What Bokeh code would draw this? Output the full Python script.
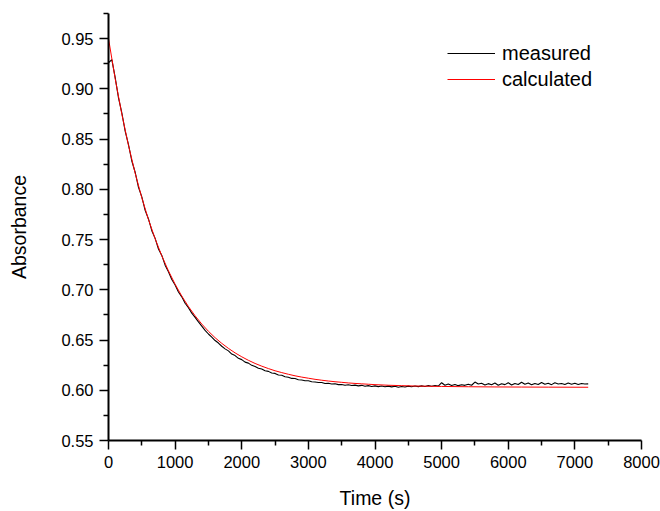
from bokeh.plotting import figure
from bokeh.models import Range1d, FixedTicker, NumeralTickFormatter, Legend, LegendItem
from bokeh.embed import file_html
from bokeh.resources import INLINE

meas_t = list(range(0, 7201, 50))
meas_a = [
    0.9260, 0.9290, 0.9115, 0.8910, 0.8762, 0.8580, 0.8445, 0.8282, 0.8170, 0.8020,
    0.7925, 0.7790, 0.7705, 0.7588, 0.7512, 0.7405, 0.7342, 0.7245, 0.7180, 0.7102,
    0.7048, 0.6978, 0.6930, 0.6866, 0.6822, 0.6768, 0.6725, 0.6680, 0.6638, 0.6596,
    0.6560, 0.6528, 0.6495, 0.6470, 0.6438, 0.6412, 0.6392, 0.6360, 0.6345, 0.6318,
    0.6305, 0.6280, 0.6270, 0.6248, 0.6236, 0.6220, 0.6212, 0.6195, 0.6188, 0.6172,
    0.6168, 0.6152, 0.6149, 0.6135, 0.6130, 0.6118, 0.6117, 0.6105, 0.6102, 0.6094,
    0.6095, 0.6085, 0.6082, 0.6077, 0.6078, 0.6068, 0.6070, 0.6062, 0.6064, 0.6056,
    0.6058, 0.6050, 0.6055, 0.6047, 0.6051, 0.6044, 0.6049, 0.6040, 0.6046, 0.6038,
    0.6044, 0.6036, 0.6042, 0.6035, 0.6041, 0.6034, 0.6040, 0.6030, 0.6038, 0.6033,
    0.6041, 0.6035, 0.6043, 0.6036, 0.6044, 0.6038, 0.6046, 0.6040, 0.6048, 0.6042,
    0.6075, 0.6050, 0.6062, 0.6048, 0.6058, 0.6046, 0.6055, 0.6049, 0.6060, 0.6050,
    0.6082, 0.6062, 0.6070, 0.6052, 0.6066, 0.6055, 0.6072, 0.6050, 0.6065, 0.6056,
    0.6075, 0.6052, 0.6068, 0.6057, 0.6080, 0.6060, 0.6072, 0.6054, 0.6068, 0.6058,
    0.6078, 0.6060, 0.6070, 0.6056, 0.6074, 0.6062, 0.6068, 0.6057, 0.6072, 0.6060,
    0.6070, 0.6058, 0.6068, 0.6062, 0.6064,
]

# calculated curve
calc_t = [0, 100, 200, 300, 400, 500, 600, 700, 800, 900,
          1000, 1100, 1200, 1300, 1400, 1500, 1600, 1700, 1800, 1900,
          2000, 2100, 2200, 2300, 2400, 2500, 2600, 2700, 2800, 2900,
          3000, 3100, 3200, 3300, 3400, 3500, 3600, 3700, 3800, 3900,
          4000, 4200, 4400, 4600, 4800, 5000, 5400, 5800, 6200, 6600, 7200]
calc_a = [0.9500, 0.9102, 0.8749, 0.8437, 0.8161, 0.7916, 0.7699, 0.7508, 0.7338, 0.7188,
          0.7055, 0.6937, 0.6833, 0.6741, 0.6659, 0.6587, 0.6523, 0.6467, 0.6417, 0.6372,
          0.6333, 0.6298, 0.6267, 0.6240, 0.6216, 0.6194, 0.6176, 0.6159, 0.6144, 0.6131,
          0.6120, 0.6109, 0.6100, 0.6092, 0.6085, 0.6079, 0.6073, 0.6068, 0.6064, 0.6060,
          0.6056, 0.6050, 0.6046, 0.6042, 0.6040, 0.6038, 0.6035, 0.6033, 0.6032, 0.6031, 0.6030]

x_ticks = [0, 1000, 2000, 3000, 4000, 5000, 6000, 7000, 8000]
x_minor = [500, 1500, 2500, 3500, 4500, 5500, 6500, 7500]
y_ticks = [0.55, 0.60, 0.65, 0.70, 0.75, 0.80, 0.85, 0.90, 0.95]
y_minor = [0.575, 0.625, 0.675, 0.725, 0.775, 0.825, 0.875, 0.925, 0.975]

FONT = "Liberation Sans"

p = figure(width=660, height=511, output_backend="svg", toolbar_location=None,
           x_range=Range1d(0, 8000), y_range=Range1d(0.55, 0.975),
           min_border_left=108, min_border_right=19, min_border_top=13, min_border_bottom=70)
p.outline_line_color = None
p.xgrid.visible = False
p.ygrid.visible = False

r_meas = p.line(meas_t, meas_a, line_color="black", line_width=1.1)
r_calc = p.line(calc_t, calc_a, line_color="#ff0000", line_width=1)

for ax in (p.xaxis[0], p.yaxis[0]):
    ax.axis_line_width = 2
    ax.major_tick_line_width = 1.5
    ax.minor_tick_line_width = 1.5
    ax.major_tick_in = 0
    ax.major_tick_out = 9
    ax.minor_tick_in = 0
    ax.minor_tick_out = 5
    ax.major_label_text_font = FONT
    ax.major_label_text_font_size = "16.5px"
    ax.major_label_text_color = "black"
    ax.axis_label_text_font = FONT
    ax.axis_label_text_font_size = "19.5px"
    ax.axis_label_text_font_style = "normal"
    ax.axis_label_text_color = "black"

p.xaxis[0].ticker = FixedTicker(ticks=x_ticks, minor_ticks=x_minor)
p.yaxis[0].ticker = FixedTicker(ticks=y_ticks, minor_ticks=y_minor)
p.xaxis[0].formatter = NumeralTickFormatter(format="0")
p.yaxis[0].formatter = NumeralTickFormatter(format="0.00")
p.xaxis[0].major_label_standoff = 6
p.yaxis[0].major_label_standoff = 6
p.xaxis[0].axis_label = "Time (s)"
p.yaxis[0].axis_label = "Absorbance"
p.xaxis[0].axis_label_standoff = 16
p.yaxis[0].axis_label_standoff = 28

legend = Legend(items=[LegendItem(label="measured", renderers=[r_meas]),
                       LegendItem(label="calculated", renderers=[r_calc])],
                location=(339, 348))
legend.border_line_color = None
legend.background_fill_alpha = 0
legend.padding = 0
legend.margin = 0
legend.spacing = 0
legend.glyph_width = 48
legend.glyph_height = 26
legend.label_height = 26
legend.label_standoff = 7
legend.label_text_font = FONT
legend.label_text_font_size = "20px"
legend.label_text_color = "black"
p.add_layout(legend, "center")

open("out.html", "w").write(file_html(p, INLINE))
